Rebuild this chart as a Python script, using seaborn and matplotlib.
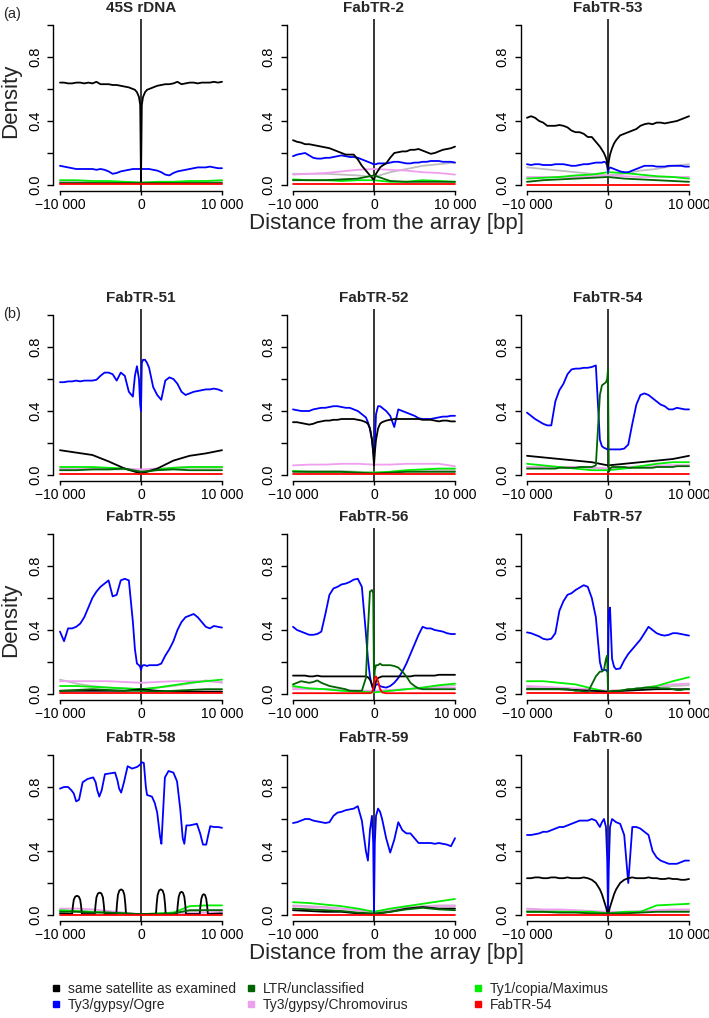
import matplotlib
matplotlib.use("Agg")
import matplotlib.pyplot as plt
import seaborn as sns
import pandas as pd
from matplotlib.lines import Line2D

sns.set_style("ticks")
plt.rcParams["font.family"] = ["Liberation Sans", "DejaVu Sans"]
plt.rcParams["axes.edgecolor"] = "black"
plt.rcParams["xtick.color"] = "black"
plt.rcParams["ytick.color"] = "black"
plt.rcParams["axes.linewidth"] = 1.0

# ---------------- position grids (bp) ----------------
XF = [-10000, -9500, -9000, -8500, -8000, -7500, -7000, -6500, -6000, -5500, -5000, -4500, -4000, -3500, -3000, -2500, -2000, -1500, -1000,
      -750, -500, -250, -100, 0, 100, 250, 500, 750,
      1000, 1500, 2000, 2500, 3000, 3500, 4000, 4500, 5000, 5500, 6000, 6500, 7000, 7500, 8000, 8500, 9000, 9500, 10000]
XC = [-10000, -8000, -6000, -4000, -2000, 0, 2000, 4000, 6000, 8000, 10000]

PANEL_NAMES = ["45S rDNA", "FabTR-2", "FabTR-53",
               "FabTR-51", "FabTR-52", "FabTR-54",
               "FabTR-55", "FabTR-56", "FabTR-57",
               "FabTR-58", "FabTR-59", "FabTR-60"]

SERIES_ORDER = ["grey", "pink", "lgreen", "blue", "black", "dgreen", "red"]
SERIES_COLORS = {"black": "#000000", "blue": "#0000ff", "dgreen": "#006400",
                 "pink": "#ee9fee", "lgreen": "#00ee00", "red": "#ff0000", "grey": "#bebebe"}
LEGEND_KEYS = ["black", "blue", "dgreen", "pink", "lgreen", "red"]
LEGEND_LABELS = ["same satellite as examined", "Ty3/gypsy/Ogre", "LTR/unclassified",
                 "Ty3/gypsy/Chromovirus", "Ty1/copia/Maximus", "FabTR-54"]

XTICKS = [-10000, 0, 10000]
XTICKLABELS = ["\u221210 000", "0", "10 000"]
YTICKS = [0.0, 0.2, 0.4, 0.6, 0.8, 1.0]
YTICKLABELS = ["0.0", "", "0.4", "", "0.8", ""]

# ---------------- 45S rDNA ----------------
rdna_black = [0.64, 0.64, 0.635, 0.635, 0.64, 0.64, 0.635, 0.64, 0.635, 0.645, 0.63, 0.63, 0.63, 0.625, 0.625, 0.62, 0.615, 0.61, 0.60,
              0.595, 0.58, 0.55, 0.50, 0.02, 0.50, 0.55, 0.58, 0.595,
              0.60, 0.61, 0.62, 0.625, 0.63, 0.63, 0.635, 0.645, 0.63, 0.635, 0.64, 0.64, 0.635, 0.64, 0.64, 0.64, 0.645, 0.64, 0.645]
rdna_blue = [0.12, 0.115, 0.11, 0.105, 0.10, 0.10, 0.10, 0.10, 0.10, 0.095, 0.10, 0.095, 0.085, 0.07, 0.075, 0.085, 0.09, 0.095, 0.10,
             0.10, 0.10, 0.10, 0.10, 0.10, 0.10, 0.10, 0.10, 0.10,
             0.10, 0.095, 0.09, 0.08, 0.065, 0.06, 0.075, 0.085, 0.09, 0.095, 0.10, 0.105, 0.11, 0.11, 0.11, 0.115, 0.11, 0.105, 0.105]
rdna_grey = [0.02, 0.02, 0.02, 0.02, 0.02, 0.015, 0.02, 0.02, 0.02, 0.02, 0.025]
rdna_pink = [0.015, 0.015, 0.015, 0.015, 0.015, 0.01, 0.015, 0.015, 0.015, 0.015, 0.015]
rdna_lgreen = [0.03, 0.03, 0.025, 0.025, 0.02, 0.015, 0.02, 0.02, 0.025, 0.025, 0.03]
rdna_dgreen = [0.01, 0.01, 0.01, 0.01, 0.01, 0.01, 0.01, 0.01, 0.01, 0.01, 0.01]
rdna_red = [0.005, 0.005, 0.005, 0.005, 0.005, 0.005, 0.005, 0.005, 0.005, 0.005, 0.005]

# ---------------- FabTR-2 ----------------
tr2_black = [0.28, 0.27, 0.265, 0.255, 0.255, 0.25, 0.245, 0.24, 0.235, 0.23, 0.22, 0.21, 0.20, 0.19, 0.19, 0.19, 0.16, 0.12, 0.09,
             0.075, 0.06, 0.045, 0.035, 0.03, 0.05, 0.07, 0.09, 0.11,
             0.12, 0.135, 0.17, 0.20, 0.205, 0.21, 0.21, 0.22, 0.22, 0.225, 0.215, 0.205, 0.195, 0.20, 0.21, 0.22, 0.225, 0.23, 0.24]
tr2_blue = [0.18, 0.19, 0.195, 0.20, 0.185, 0.17, 0.165, 0.165, 0.17, 0.17, 0.175, 0.18, 0.185, 0.18, 0.175, 0.175, 0.17, 0.16, 0.15,
            0.145, 0.14, 0.135, 0.13, 0.13, 0.13, 0.13, 0.135, 0.135,
            0.135, 0.135, 0.14, 0.145, 0.145, 0.14, 0.135, 0.135, 0.14, 0.14, 0.145, 0.145, 0.15, 0.15, 0.15, 0.145, 0.145, 0.145, 0.14]
tr2_grey = [0.07, 0.07, 0.07, 0.065, 0.06, 0.05, 0.08, 0.10, 0.12, 0.13, 0.14]
tr2_pink = [0.065, 0.07, 0.075, 0.085, 0.095, 0.10, 0.095, 0.09, 0.08, 0.075, 0.065]
tr2_lgreen = [0.035, 0.03, 0.03, 0.025, 0.03, 0.03, 0.02, 0.02, 0.03, 0.025, 0.02]
tr2_dgreen = [0.03, 0.03, 0.03, 0.035, 0.04, 0.06, 0.025, 0.02, 0.02, 0.02, 0.02]
tr2_red = [0.005, 0.005, 0.005, 0.005, 0.005, 0.005, 0.005, 0.005, 0.005, 0.005, 0.005]

# ---------------- FabTR-53 ----------------
tr53_black = [0.42, 0.43, 0.42, 0.40, 0.39, 0.37, 0.37, 0.37, 0.375, 0.37, 0.36, 0.34, 0.33, 0.33, 0.32, 0.30, 0.30, 0.27, 0.24,
              0.22, 0.20, 0.17, 0.14, 0.10, 0.15, 0.19, 0.23, 0.26,
              0.28, 0.31, 0.32, 0.33, 0.34, 0.35, 0.37, 0.38, 0.385, 0.38, 0.39, 0.39, 0.385, 0.39, 0.395, 0.40, 0.41, 0.42, 0.43]
tr53_blue = [0.13, 0.125, 0.13, 0.13, 0.125, 0.125, 0.125, 0.13, 0.13, 0.13, 0.125, 0.12, 0.12, 0.125, 0.13, 0.13, 0.135, 0.14, 0.14,
             0.14, 0.145, 0.14, 0.12, 0.08, 0.10, 0.11, 0.105, 0.10,
             0.095, 0.085, 0.08, 0.08, 0.09, 0.10, 0.11, 0.12, 0.12, 0.12, 0.115, 0.115, 0.115, 0.12, 0.12, 0.12, 0.12, 0.115, 0.115]
tr53_grey = [0.11, 0.10, 0.09, 0.08, 0.07, 0.06, 0.07, 0.09, 0.10, 0.12, 0.13]
tr53_pink = [0.05, 0.05, 0.05, 0.05, 0.055, 0.06, 0.055, 0.05, 0.05, 0.05, 0.05]
tr53_lgreen = [0.04, 0.045, 0.05, 0.06, 0.065, 0.08, 0.075, 0.065, 0.055, 0.05, 0.04]
tr53_dgreen = [0.02, 0.03, 0.035, 0.04, 0.045, 0.05, 0.04, 0.035, 0.03, 0.025, 0.02]
tr53_red = [0.003, 0.003, 0.003, 0.003, 0.003, 0.003, 0.003, 0.003, 0.003, 0.003, 0.003]

# ---------------- FabTR-51 ----------------
tr51_blue = [0.58, 0.58, 0.585, 0.585, 0.59, 0.585, 0.59, 0.59, 0.59, 0.595, 0.62, 0.64, 0.64, 0.63, 0.59, 0.64, 0.62, 0.52, 0.49,
             0.62, 0.68, 0.60, 0.44, 0.40, 0.70, 0.72, 0.72, 0.70,
             0.67, 0.55, 0.50, 0.47, 0.59, 0.61, 0.60, 0.57, 0.52, 0.50, 0.51, 0.52, 0.525, 0.53, 0.535, 0.535, 0.54, 0.535, 0.525]
tr51_black = [0.155, 0.14, 0.125, 0.085, 0.04, 0.01, 0.04, 0.09, 0.12, 0.135, 0.155]
tr51_grey = [0.035, 0.035, 0.035, 0.035, 0.035, 0.03, 0.035, 0.04, 0.045, 0.045, 0.045]
tr51_pink = [0.04, 0.04, 0.04, 0.04, 0.04, 0.035, 0.04, 0.045, 0.05, 0.05, 0.05]
tr51_lgreen = [0.05, 0.05, 0.05, 0.045, 0.04, 0.01, 0.035, 0.045, 0.05, 0.05, 0.05]
tr51_dgreen = [0.03, 0.03, 0.035, 0.035, 0.04, 0.02, 0.03, 0.035, 0.03, 0.03, 0.03]
tr51_red = [0.005, 0.005, 0.005, 0.005, 0.005, 0.005, 0.005, 0.005, 0.005, 0.005, 0.005]

# ---------------- FabTR-52 ----------------
tr52_blue = [0.41, 0.405, 0.40, 0.40, 0.40, 0.41, 0.415, 0.42, 0.42, 0.425, 0.43, 0.43, 0.425, 0.42, 0.42, 0.41, 0.40, 0.38, 0.36,
             0.33, 0.29, 0.22, 0.15, 0.10, 0.20, 0.38, 0.43, 0.43,
             0.42, 0.40, 0.37, 0.30, 0.41, 0.40, 0.39, 0.38, 0.37, 0.355, 0.35, 0.35, 0.35, 0.355, 0.36, 0.365, 0.365, 0.37, 0.37]
tr52_black = [0.33, 0.33, 0.325, 0.32, 0.315, 0.32, 0.33, 0.335, 0.34, 0.34, 0.345, 0.345, 0.35, 0.35, 0.35, 0.35, 0.345, 0.34, 0.33,
              0.32, 0.29, 0.22, 0.14, 0.06, 0.14, 0.22, 0.29, 0.32,
              0.33, 0.34, 0.345, 0.35, 0.35, 0.35, 0.35, 0.35, 0.35, 0.35, 0.345, 0.345, 0.345, 0.34, 0.335, 0.34, 0.34, 0.335, 0.335]
tr52_grey = [0.025, 0.025, 0.025, 0.025, 0.02, 0.015, 0.02, 0.025, 0.03, 0.03, 0.03]
tr52_pink = [0.06, 0.065, 0.065, 0.07, 0.07, 0.065, 0.065, 0.07, 0.07, 0.07, 0.055]
tr52_lgreen = [0.025, 0.02, 0.02, 0.02, 0.015, 0.015, 0.02, 0.03, 0.035, 0.04, 0.04]
tr52_dgreen = [0.02, 0.02, 0.02, 0.02, 0.015, 0.01, 0.015, 0.02, 0.02, 0.02, 0.02]
tr52_red = [0.005, 0.005, 0.005, 0.005, 0.005, 0.005, 0.005, 0.005, 0.005, 0.005, 0.005]

# ---------------- FabTR-54 ----------------
tr54_blue = [0.39, 0.37, 0.35, 0.335, 0.32, 0.31, 0.31, 0.46, 0.53, 0.57, 0.63, 0.66, 0.665, 0.665, 0.67, 0.67, 0.675, 0.685, 0.22,
             0.18, 0.17, 0.165, 0.16, 0.16, 0.16, 0.16, 0.16, 0.16,
             0.16, 0.16, 0.165, 0.19, 0.32, 0.44, 0.50, 0.51, 0.50, 0.48, 0.46, 0.44, 0.43, 0.41, 0.41, 0.42, 0.415, 0.41, 0.41]
tr54_dgreen = [0.04, 0.04, 0.04, 0.04, 0.04, 0.04, 0.04, 0.04, 0.045, 0.045, 0.045, 0.045, 0.045, 0.05, 0.05, 0.05, 0.05, 0.06, 0.50,
               0.56, 0.57, 0.58, 0.60, 0.66, 0.02, 0.04, 0.05, 0.05,
               0.05, 0.05, 0.05, 0.045, 0.045, 0.045, 0.045, 0.045, 0.045, 0.045, 0.05, 0.05, 0.05, 0.05, 0.05, 0.055, 0.055, 0.055, 0.055]
tr54_black = [0.12, 0.11, 0.10, 0.09, 0.08, 0.06, 0.07, 0.08, 0.09, 0.10, 0.12]
tr54_grey = [0.05, 0.05, 0.05, 0.05, 0.045, 0.04, 0.045, 0.05, 0.055, 0.06, 0.06]
tr54_pink = [0.05, 0.05, 0.05, 0.05, 0.045, 0.04, 0.05, 0.055, 0.06, 0.06, 0.06]
tr54_lgreen = [0.07, 0.06, 0.05, 0.04, 0.03, 0.03, 0.04, 0.055, 0.07, 0.08, 0.08]
tr54_red = [0.005, 0.005, 0.005, 0.005, 0.005, 0.005, 0.005, 0.005, 0.005, 0.005, 0.005]

# ---------------- FabTR-55 ----------------
tr55_blue = [0.39, 0.33, 0.41, 0.41, 0.42, 0.44, 0.48, 0.54, 0.60, 0.64, 0.67, 0.69, 0.71, 0.61, 0.62, 0.71, 0.72, 0.71, 0.45,
             0.28, 0.19, 0.18, 0.17, 0.15, 0.17, 0.18, 0.18, 0.175,
             0.18, 0.18, 0.18, 0.19, 0.24, 0.28, 0.33, 0.40, 0.45, 0.48, 0.49, 0.50, 0.48, 0.45, 0.42, 0.41, 0.425, 0.42, 0.415]
tr55_black = [0.02, 0.02, 0.02, 0.02, 0.02, 0.03, 0.02, 0.015, 0.015, 0.015, 0.015]
tr55_grey = [0.09, 0.065, 0.05, 0.04, 0.035, 0.03, 0.04, 0.05, 0.065, 0.085, 0.07]
tr55_pink = [0.08, 0.08, 0.08, 0.08, 0.075, 0.07, 0.075, 0.08, 0.08, 0.08, 0.075]
tr55_lgreen = [0.05, 0.05, 0.045, 0.04, 0.035, 0.03, 0.04, 0.055, 0.07, 0.08, 0.09]
tr55_dgreen = [0.02, 0.025, 0.03, 0.025, 0.02, 0.02, 0.015, 0.02, 0.025, 0.03, 0.03]
tr55_red = [0.005, 0.005, 0.005, 0.005, 0.005, 0.005, 0.005, 0.005, 0.005, 0.005, 0.005]

# ---------------- FabTR-56 ----------------
tr56_blue = [0.42, 0.40, 0.39, 0.38, 0.37, 0.37, 0.375, 0.39, 0.50, 0.62, 0.66, 0.67, 0.685, 0.69, 0.70, 0.715, 0.72, 0.67, 0.38,
             0.22, 0.11, 0.05, 0.03, 0.02, 0.04, 0.06, 0.06, 0.05,
             0.045, 0.04, 0.05, 0.07, 0.10, 0.14, 0.19, 0.25, 0.31, 0.37, 0.42, 0.41, 0.41, 0.40, 0.395, 0.39, 0.38, 0.375, 0.375]
tr56_dgreen = [0.06, 0.07, 0.08, 0.075, 0.07, 0.075, 0.085, 0.07, 0.06, 0.05, 0.045, 0.04, 0.035, 0.03, 0.02, 0.02, 0.02, 0.02, 0.10,
               0.40, 0.64, 0.65, 0.63, 0.05, 0.15, 0.18, 0.18, 0.19,
               0.18, 0.18, 0.18, 0.175, 0.165, 0.14, 0.11, 0.07, 0.05, 0.035, 0.03, 0.03, 0.03, 0.03, 0.03, 0.03, 0.03, 0.03, 0.03]
tr56_black = [0.115, 0.115, 0.115, 0.115, 0.11, 0.11, 0.115, 0.11, 0.11, 0.11, 0.11, 0.11, 0.11, 0.11, 0.11, 0.11, 0.11, 0.11, 0.11,
              0.105, 0.09, 0.06, 0.04, 0.03, 0.05, 0.08, 0.10, 0.105,
              0.11, 0.11, 0.11, 0.11, 0.11, 0.11, 0.11, 0.11, 0.115, 0.115, 0.115, 0.115, 0.115, 0.115, 0.12, 0.12, 0.12, 0.12, 0.12]
tr56_red = [0.005, 0.005, 0.005, 0.005, 0.005, 0.005, 0.005, 0.005, 0.005, 0.005, 0.005, 0.005, 0.005, 0.005, 0.005, 0.005, 0.005, 0.005, 0.005,
            0.005, 0.005, 0.01, 0.03, 0.06, 0.10, 0.11, 0.08, 0.03,
            0.01, 0.005, 0.005, 0.005, 0.005, 0.005, 0.005, 0.005, 0.005, 0.005, 0.005, 0.005, 0.005, 0.005, 0.005, 0.005, 0.005, 0.005, 0.005]
tr56_grey = [0.04, 0.035, 0.03, 0.025, 0.02, 0.02, 0.02, 0.03, 0.04, 0.05, 0.055]
tr56_pink = [0.03, 0.03, 0.03, 0.025, 0.02, 0.02, 0.025, 0.03, 0.035, 0.04, 0.04]
tr56_lgreen = [0.05, 0.035, 0.03, 0.02, 0.015, 0.01, 0.02, 0.03, 0.04, 0.055, 0.065]

# ---------------- FabTR-57 ----------------
tr57_blue = [0.385, 0.38, 0.37, 0.36, 0.345, 0.34, 0.345, 0.38, 0.52, 0.58, 0.62, 0.63, 0.65, 0.665, 0.68, 0.67, 0.60, 0.48, 0.20,
             0.15, 0.15, 0.15, 0.14, 0.15, 0.52, 0.54, 0.22, 0.17,
             0.155, 0.16, 0.21, 0.25, 0.28, 0.31, 0.34, 0.38, 0.42, 0.40, 0.38, 0.37, 0.365, 0.37, 0.38, 0.38, 0.375, 0.37, 0.365]
tr57_dgreen = [0.03, 0.03, 0.03, 0.03, 0.03, 0.03, 0.03, 0.03, 0.03, 0.03, 0.03, 0.025, 0.02, 0.02, 0.015, 0.01, 0.06, 0.11, 0.14,
               0.14, 0.15, 0.22, 0.24, 0.01, 0.01, 0.015, 0.02, 0.02,
               0.02, 0.02, 0.025, 0.03, 0.03, 0.035, 0.035, 0.04, 0.04, 0.04, 0.04, 0.035, 0.035, 0.035, 0.03, 0.025, 0.025, 0.03, 0.03]
tr57_black = [0.03, 0.03, 0.03, 0.025, 0.02, 0.015, 0.02, 0.025, 0.03, 0.03, 0.03]
tr57_grey = [0.04, 0.035, 0.03, 0.025, 0.02, 0.015, 0.025, 0.035, 0.04, 0.05, 0.055]
tr57_pink = [0.05, 0.045, 0.04, 0.035, 0.03, 0.02, 0.025, 0.035, 0.05, 0.06, 0.065]
tr57_lgreen = [0.08, 0.08, 0.07, 0.06, 0.035, 0.01, 0.025, 0.035, 0.05, 0.08, 0.105]
tr57_red = [0.005, 0.005, 0.005, 0.005, 0.005, 0.005, 0.005, 0.005, 0.005, 0.005, 0.005]

# ---------------- FabTR-58 (own position lists: periodic structure) ----------------
tr58_blue_pos = [-10000, -9500, -9000, -8600, -8300, -8000, -7650, -7200, -6600, -5900, -5600, -5400, -5150, -4850, -4450,
                 -3200, -2900, -2700, -2450, -2100, -1650, -1100, -500, -100, 100, 350, 600, 750, 1350, 1700, 2000, 2350,
                 2520, 2700, 2950, 3400, 4000, 4450, 4850, 5150, 5350, 5600, 6000, 6900, 7300, 7650, 8050, 8300, 8550,
                 9000, 9500, 10000]
tr58_blue = [0.79, 0.80, 0.80, 0.78, 0.76, 0.71, 0.72, 0.83, 0.85, 0.86, 0.83, 0.78, 0.74, 0.78, 0.88,
             0.89, 0.84, 0.79, 0.765, 0.83, 0.93, 0.915, 0.925, 0.94, 0.955, 0.95, 0.80, 0.75, 0.74, 0.70, 0.64, 0.49,
             0.445, 0.62, 0.86, 0.90, 0.89, 0.835, 0.66, 0.48, 0.445, 0.56, 0.56, 0.57, 0.51, 0.44, 0.44, 0.50, 0.555,
             0.55, 0.55, 0.545]
tr58_black_pos = [-10000,
                  -8500, -8420, -8300, -8120, -7900, -7680, -7500, -7380, -7300,
                  -5700, -5620, -5500, -5320, -5100, -4880, -4700, -4580, -4500,
                  -3050, -2970, -2850, -2670, -2450, -2230, -2050, -1930, -1850,
                  0,
                  1850, 1930, 2050, 2230, 2450, 2670, 2850, 2970, 3050,
                  4450, 4530, 4650, 4820, 5000, 5180, 5350, 5470, 5550,
                  7250, 7330, 7450, 7600, 7750, 7900, 8050, 8170, 8250,
                  10000]
tr58_black = [0.01,
              0.006, 0.05, 0.095, 0.115, 0.12, 0.115, 0.095, 0.05, 0.006,
              0.006, 0.058, 0.11, 0.134, 0.14, 0.134, 0.11, 0.058, 0.006,
              0.006, 0.066, 0.125, 0.153, 0.16, 0.153, 0.125, 0.066, 0.006,
              0.005,
              0.006, 0.066, 0.125, 0.153, 0.16, 0.153, 0.125, 0.066, 0.006,
              0.006, 0.06, 0.113, 0.139, 0.145, 0.139, 0.113, 0.06, 0.006,
              0.006, 0.054, 0.102, 0.125, 0.13, 0.125, 0.102, 0.054, 0.006,
              0.01]
tr58_grey = [0.03, 0.025, 0.02, 0.015, 0.01, 0.005, 0.01, 0.015, 0.02, 0.03, 0.03]
tr58_pink = [0.04, 0.04, 0.035, 0.025, 0.015, 0.005, 0.005, 0.005, 0.01, 0.015, 0.02]
tr58_lgreen = [0.03, 0.025, 0.02, 0.015, 0.01, 0.005, 0.01, 0.015, 0.055, 0.06, 0.06]
tr58_dgreen = [0.02, 0.02, 0.015, 0.015, 0.01, 0.005, 0.005, 0.01, 0.03, 0.03, 0.03]
tr58_red = [0.003, 0.003, 0.003, 0.003, 0.003, 0.003, 0.003, 0.003, 0.003, 0.003, 0.003]

# ---------------- FabTR-59 ----------------
tr59_blue = [0.575, 0.58, 0.59, 0.60, 0.60, 0.59, 0.585, 0.58, 0.575, 0.58, 0.62, 0.64, 0.645, 0.655, 0.66, 0.665, 0.68, 0.59, 0.40,
             0.34, 0.53, 0.62, 0.45, 0.01, 0.45, 0.62, 0.665, 0.645,
             0.60, 0.48, 0.39, 0.47, 0.58, 0.53, 0.51, 0.51, 0.48, 0.45, 0.45, 0.45, 0.45, 0.445, 0.45, 0.445, 0.44, 0.43, 0.48]
tr59_black = [0.03, 0.025, 0.02, 0.02, 0.01, 0.005, 0.02, 0.04, 0.05, 0.04, 0.04]
tr59_grey = [0.06, 0.055, 0.05, 0.04, 0.03, 0.02, 0.03, 0.045, 0.055, 0.06, 0.06]
tr59_pink = [0.055, 0.05, 0.045, 0.04, 0.03, 0.02, 0.035, 0.045, 0.05, 0.055, 0.055]
tr59_lgreen = [0.08, 0.075, 0.065, 0.055, 0.04, 0.02, 0.04, 0.055, 0.07, 0.085, 0.10]
tr59_dgreen = [0.04, 0.035, 0.03, 0.025, 0.015, 0.01, 0.02, 0.035, 0.045, 0.035, 0.03]
tr59_red = [0.003, 0.003, 0.003, 0.003, 0.003, 0.003, 0.003, 0.003, 0.003, 0.003, 0.003]

# ---------------- FabTR-60 ----------------
tr60_blue = [0.50, 0.50, 0.505, 0.51, 0.52, 0.52, 0.53, 0.54, 0.55, 0.55, 0.56, 0.57, 0.58, 0.59, 0.59, 0.59, 0.60, 0.59, 0.55,
             0.58, 0.60, 0.55, 0.35, 0.02, 0.30, 0.55, 0.60, 0.59,
             0.58, 0.57, 0.50, 0.20, 0.55, 0.55, 0.54, 0.52, 0.50, 0.40, 0.36, 0.34, 0.33, 0.32, 0.32, 0.32, 0.33, 0.34, 0.34]
tr60_black = [0.23, 0.23, 0.235, 0.235, 0.23, 0.23, 0.235, 0.235, 0.23, 0.23, 0.235, 0.23, 0.23, 0.23, 0.235, 0.23, 0.22, 0.20, 0.16,
              0.13, 0.09, 0.05, 0.02, 0.01, 0.02, 0.05, 0.09, 0.13,
              0.16, 0.20, 0.22, 0.23, 0.235, 0.23, 0.23, 0.23, 0.235, 0.23, 0.23, 0.225, 0.225, 0.23, 0.225, 0.225, 0.22, 0.22, 0.225]
tr60_grey = [0.03, 0.03, 0.025, 0.02, 0.015, 0.01, 0.015, 0.02, 0.025, 0.03, 0.03]
tr60_pink = [0.04, 0.035, 0.035, 0.03, 0.025, 0.02, 0.02, 0.025, 0.03, 0.035, 0.035]
tr60_lgreen = [0.02, 0.02, 0.02, 0.02, 0.02, 0.01, 0.02, 0.02, 0.06, 0.065, 0.07]
tr60_dgreen = [0.02, 0.02, 0.015, 0.015, 0.01, 0.01, 0.01, 0.015, 0.02, 0.02, 0.02]
tr60_red = [0.003, 0.003, 0.003, 0.003, 0.003, 0.003, 0.003, 0.003, 0.003, 0.003, 0.003]

DATA = {
    "45S rDNA": dict(black=rdna_black, blue=rdna_blue, grey=rdna_grey, pink=rdna_pink, lgreen=rdna_lgreen, dgreen=rdna_dgreen, red=rdna_red),
    "FabTR-2": dict(black=tr2_black, blue=tr2_blue, grey=tr2_grey, pink=tr2_pink, lgreen=tr2_lgreen, dgreen=tr2_dgreen, red=tr2_red),
    "FabTR-53": dict(black=tr53_black, blue=tr53_blue, grey=tr53_grey, pink=tr53_pink, lgreen=tr53_lgreen, dgreen=tr53_dgreen, red=tr53_red),
    "FabTR-51": dict(black=tr51_black, blue=tr51_blue, grey=tr51_grey, pink=tr51_pink, lgreen=tr51_lgreen, dgreen=tr51_dgreen, red=tr51_red),
    "FabTR-52": dict(black=tr52_black, blue=tr52_blue, grey=tr52_grey, pink=tr52_pink, lgreen=tr52_lgreen, dgreen=tr52_dgreen, red=tr52_red),
    "FabTR-54": dict(black=tr54_black, blue=tr54_blue, grey=tr54_grey, pink=tr54_pink, lgreen=tr54_lgreen, dgreen=tr54_dgreen, red=tr54_red),
    "FabTR-55": dict(black=tr55_black, blue=tr55_blue, grey=tr55_grey, pink=tr55_pink, lgreen=tr55_lgreen, dgreen=tr55_dgreen, red=tr55_red),
    "FabTR-56": dict(black=tr56_black, blue=tr56_blue, grey=tr56_grey, pink=tr56_pink, lgreen=tr56_lgreen, dgreen=tr56_dgreen, red=tr56_red),
    "FabTR-57": dict(black=tr57_black, blue=tr57_blue, grey=tr57_grey, pink=tr57_pink, lgreen=tr57_lgreen, dgreen=tr57_dgreen, red=tr57_red),
    "FabTR-58": dict(black=(tr58_black_pos, tr58_black), blue=(tr58_blue_pos, tr58_blue), grey=tr58_grey, pink=tr58_pink,
                     lgreen=tr58_lgreen, dgreen=tr58_dgreen, red=tr58_red),
    "FabTR-59": dict(black=tr59_black, blue=tr59_blue, grey=tr59_grey, pink=tr59_pink, lgreen=tr59_lgreen, dgreen=tr59_dgreen, red=tr59_red),
    "FabTR-60": dict(black=tr60_black, blue=tr60_blue, grey=tr60_grey, pink=tr60_pink, lgreen=tr60_lgreen, dgreen=tr60_dgreen, red=tr60_red),
}


def xy(v):
    if isinstance(v, tuple):
        return list(v[0]), list(v[1])
    if len(v) == len(XF):
        return XF, v
    if len(v) == len(XC):
        return XC, v
    raise ValueError("bad series length %d" % len(v))


# ---------------- layout (pixels) ----------------
W_PX, H_PX = 709, 1018
COL_L = [53.5, 286.5, 520.5]
ROW_T = [18.6, 308.6, 527.6, 748.6]
AW, AH = 175.0, 172.8

fig = plt.figure(figsize=(W_PX / 100, H_PX / 100), dpi=100)

for i, name in enumerate(PANEL_NAMES):
    r, c = divmod(i, 3)
    ax = fig.add_axes([COL_L[c] / W_PX, 1 - (ROW_T[r] + AH) / H_PX, AW / W_PX, AH / H_PX])
    rows = []
    for s in SERIES_ORDER:
        xs, ys = xy(DATA[name][s])
        rows += [(x, y, s) for x, y in zip(xs, ys)]
    df = pd.DataFrame(rows, columns=["pos", "density", "series"])
    ax.axvline(0, color="black", lw=1.1, zorder=1)
    sns.lineplot(data=df, x="pos", y="density", hue="series", hue_order=SERIES_ORDER,
                 palette=SERIES_COLORS, estimator=None, sort=False, legend=False,
                 linewidth=1.3, ax=ax)
    ax.set_xlim(-10800, 10800)
    ax.set_ylim(-0.04, 1.04)
    sns.despine(ax=ax)
    ax.spines["left"].set_bounds(0, 1)
    ax.spines["bottom"].set_bounds(-10000, 10000)
    ax.set_xticks(XTICKS)
    ax.set_xticklabels(XTICKLABELS)
    ax.set_yticks(YTICKS)
    ax.set_yticklabels(YTICKLABELS, rotation=90, va="center")
    ax.tick_params(axis="y", length=4, width=1, labelsize=10.5, pad=4)
    ax.tick_params(axis="x", length=3, width=1, labelsize=10, pad=1.5)
    ax.set_xlabel("")
    ax.set_ylabel("")
    ax.set_title(name, fontsize=11, fontweight="bold", pad=5)


def fy(px):
    return 1 - px / H_PX


fig.text(3 / W_PX, fy(14), "(a)", fontsize=10.5, va="center", ha="left")
fig.text(3 / W_PX, fy(314), "(b)", fontsize=10.5, va="center", ha="left")
fig.text(11 / W_PX, fy(101), "Density", rotation=90, fontsize=16, va="center", ha="center")
fig.text(11 / W_PX, fy(620), "Density", rotation=90, fontsize=16, va="center", ha="center")
fig.text(386 / W_PX, fy(229), "Distance from the array [bp]", fontsize=16, ha="center", va="baseline")
fig.text(386 / W_PX, fy(959), "Distance from the array [bp]", fontsize=16, ha="center", va="baseline")

# legend: three columns of two entries
LEG_X = [50, 245, 472]
for col in range(3):
    keys = LEGEND_KEYS[2 * col:2 * col + 2]
    labs = LEGEND_LABELS[2 * col:2 * col + 2]
    handles = [Line2D([], [], marker="s", linestyle="", color=SERIES_COLORS[k], markersize=4) for k in keys]
    fig.legend(handles, labs, loc="upper left", bbox_to_anchor=(LEG_X[col] / W_PX, fy(982)),
               frameon=False, fontsize=10, handlelength=0.8, handletextpad=0.5,
               labelspacing=0.15, borderpad=0, borderaxespad=0)

fig.savefig("out.png", dpi=100)
